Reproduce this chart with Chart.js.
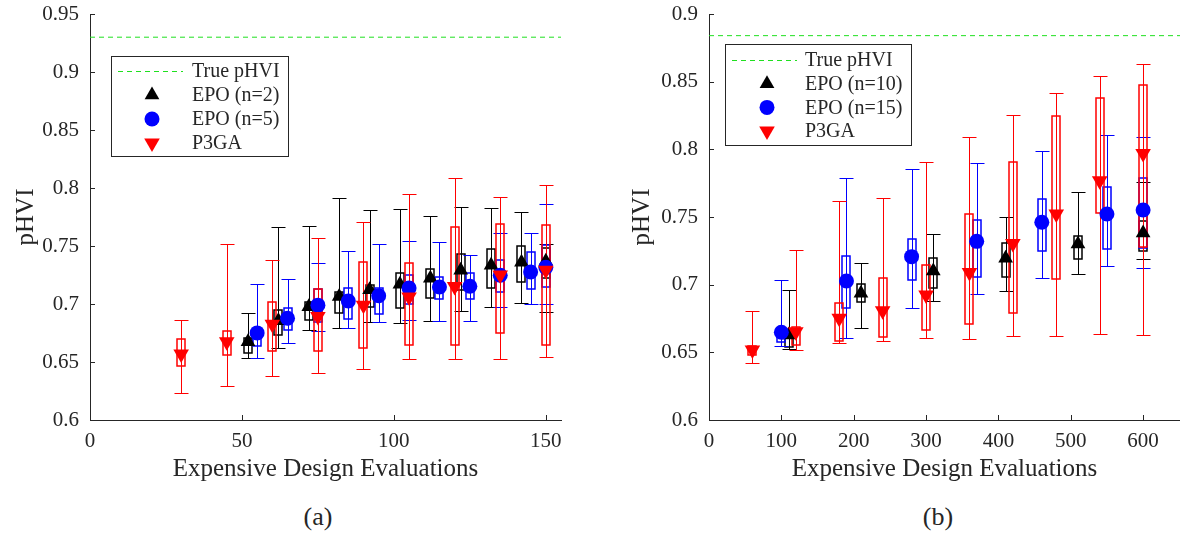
<!DOCTYPE html>
<html>
<head>
<meta charset="utf-8">
<script src="https://cdn.jsdelivr.net/npm/chart.js@4.4.0/dist/chart.umd.min.js"></script>
<style>
  body { margin: 0; background: #fff; width: 1180px; height: 537px; position: relative; overflow: hidden; font-family: 'Liberation Serif', 'Times New Roman', serif; }
  .panel { position: absolute; top: 0; width: 590px; height: 484px; }
  .cap { position: absolute; top: 502px; font-size: 26px; color: #262626; width: 60px; text-align: center; }
</style>
</head>
<body>
<div class="panel" style="left:0"><canvas id="chartA" width="590" height="484"></canvas></div>
<div class="panel" style="left:590px"><canvas id="chartB" width="590" height="484"></canvas></div>
<div class="cap" style="left:288px">(a)</div>
<div class="cap" style="left:908px">(b)</div>
<script>
// ---- panel (a) ----
const aXTicks = [0, 50, 100, 150]
const aYTicks = [0.6, 0.65, 0.7, 0.75, 0.8, 0.85, 0.9, 0.95]
const aTrue = 0.93

const aEpo2X = [52, 62, 72, 82, 92, 102, 112, 122, 132, 142, 150]
const aEpo2Mid = [0.6675, 0.6855, 0.6977, 0.7065, 0.7122, 0.717, 0.7222, 0.729, 0.7334, 0.736, 0.7368]
const aEpo2Q1 = [0.658, 0.673, 0.686, 0.692, 0.697, 0.6964, 0.705, 0.712, 0.7136, 0.7188, 0.722]
const aEpo2Q3 = [0.6706, 0.6947, 0.7018, 0.7104, 0.716, 0.7265, 0.730, 0.743, 0.747, 0.7497, 0.748]
const aEpo2Lo = [0.6533, 0.662, 0.6775, 0.6794, 0.6843, 0.6835, 0.685, 0.694, 0.697, 0.7007, 0.693]
const aEpo2Hi = [0.692, 0.7664, 0.7672, 0.791, 0.7807, 0.7816, 0.7756, 0.7833, 0.7824, 0.779, 0.7515]

const aEpo5X = [55, 65, 75, 85, 95, 105, 115, 125, 135, 145, 150]
const aEpo5Mid = [0.6751, 0.6877, 0.699, 0.7026, 0.7071, 0.7137, 0.7147, 0.7153, 0.7248, 0.7276, 0.7316]
const aEpo5Q1 = [0.6638, 0.6778, 0.6848, 0.687, 0.6912, 0.700, 0.704, 0.704, 0.7104, 0.7127, 0.7147]
const aEpo5Q3 = [0.6776, 0.6964, 0.713, 0.7137, 0.7138, 0.725, 0.7233, 0.7268, 0.7377, 0.7446, 0.7506]
const aEpo5Lo = [0.6537, 0.6662, 0.6765, 0.679, 0.6846, 0.686, 0.6852, 0.6855, 0.6975, 0.6998, 0.6998]
const aEpo5Hi = [0.7172, 0.7214, 0.7356, 0.7457, 0.7515, 0.754, 0.7534, 0.742, 0.761, 0.761, 0.786]

const aP3gaX = [30, 45, 60, 75, 90, 105, 120, 135, 150]
const aP3gaMid = [0.657, 0.6675, 0.6825, 0.6893, 0.699, 0.706, 0.715, 0.725, 0.729]
const aP3gaQ1 = [0.6465, 0.656, 0.6594, 0.6594, 0.662, 0.6647, 0.6644, 0.675, 0.665]
const aP3gaQ3 = [0.670, 0.6766, 0.7018, 0.7127, 0.7362, 0.735, 0.766, 0.7687, 0.768]
const aP3gaLo = [0.6236, 0.629, 0.638, 0.6407, 0.6439, 0.653, 0.653, 0.653, 0.654]
const aP3gaHi = [0.686, 0.7515, 0.7377, 0.7566, 0.771, 0.795, 0.809, 0.792, 0.803]

// ---- panel (b) ----
const bXTicks = [0, 100, 200, 300, 400, 500, 600]
const bYTicks = [0.6, 0.65, 0.7, 0.75, 0.8, 0.85, 0.9]
const bTrue = 0.884

const bEpo10X = [110, 210, 310, 410, 510, 600]
const bEpo10Mid = [0.6628, 0.6936, 0.7101, 0.7195, 0.73, 0.7382]
const bEpo10Q1 = [0.6542, 0.6874, 0.6973, 0.7059, 0.719, 0.7251]
const bEpo10Q3 = [0.6665, 0.7002, 0.72, 0.7308, 0.7362, 0.7473]
const bEpo10Lo = [0.6525, 0.6682, 0.6879, 0.6953, 0.7079, 0.719]
const bEpo10Hi = [0.6961, 0.7158, 0.7374, 0.7498, 0.7687, 0.7761]

const bEpo15X = [100, 190, 280, 370, 460, 550, 600]
const bEpo15Mid = [0.6648, 0.7027, 0.7207, 0.732, 0.7461, 0.7522, 0.7552]
const bEpo15Q1 = [0.6579, 0.683, 0.7034, 0.7059, 0.7249, 0.7264, 0.727]
const bEpo15Q3 = [0.6677, 0.7212, 0.7337, 0.7478, 0.7633, 0.7719, 0.7786]
const bEpo15Lo = [0.6547, 0.6603, 0.683, 0.6929, 0.7047, 0.714, 0.7126]
const bEpo15Hi = [0.7034, 0.7788, 0.7852, 0.7899, 0.7988, 0.8108, 0.8094]

const bP3gaX = [60, 120, 180, 240, 300, 360, 420, 480, 540, 600]
const bP3gaMid = [0.6517, 0.6653, 0.6751, 0.6808, 0.6924, 0.7089, 0.7305, 0.7522, 0.7768, 0.797]
const bP3gaQ1 = [0.648, 0.6554, 0.6586, 0.6611, 0.6665, 0.671, 0.6793, 0.704, 0.7527, 0.728]
const bP3gaQ3 = [0.655, 0.669, 0.6862, 0.7047, 0.7145, 0.7522, 0.7904, 0.8249, 0.8377, 0.8478]
const bP3gaLo = [0.6424, 0.6517, 0.6571, 0.6584, 0.6603, 0.6596, 0.662, 0.6623, 0.6633, 0.6628]
const bP3gaHi = [0.6805, 0.7256, 0.7616, 0.7638, 0.7904, 0.8094, 0.8254, 0.8416, 0.854, 0.8631]

const colors = {
  truth: '#1fe01f',
  epoA: '#000000',
  epoB: '#0000ff',
  p3ga: '#ff0000',
  axis: '#262626'
}

Chart.defaults.font.family = "'Liberation Serif', 'Times New Roman', serif"
Chart.defaults.color = colors.axis

function points (xs, ys) {
  return xs.map((x, i) => ({ x: x, y: ys[i] }))
}

function boxes (lo, q1, q3, hi) {
  return lo.map((v, i) => [v, q1[i], q3[i], hi[i]])
}

const crisp = v => Math.round(v) + 0.5

// box + whisker drawn through the chart scales
const boxPlugin = {
  id: 'boxWhisker',
  beforeDatasetsDraw (chart) {
    const { ctx, scales: { x, y } } = chart
    chart.data.datasets.forEach(ds => {
      if (!ds.box) return
      ctx.save()
      ctx.strokeStyle = ds.backgroundColor
      ds.data.forEach((p, i) => {
        const [lo, q1, q3, hi] = ds.box[i]
        const px = crisp(x.getPixelForValue(p.x))
        const yLo = crisp(y.getPixelForValue(lo))
        const yHi = crisp(y.getPixelForValue(hi))
        const yQ1 = Math.round(y.getPixelForValue(q1))
        const yQ3 = Math.round(y.getPixelForValue(q3))
        ctx.lineWidth = 1
        ctx.beginPath()
        ctx.moveTo(px, yLo); ctx.lineTo(px, yHi)
        ctx.moveTo(px - 7, yLo); ctx.lineTo(px + 7, yLo)
        ctx.moveTo(px - 7, yHi); ctx.lineTo(px + 7, yHi)
        ctx.stroke()
        ctx.lineWidth = 1.5
        ctx.strokeRect(px - 4.5, yQ3, 8, yQ1 - yQ3)
      })
      ctx.restore()
    })
  },
  afterDraw (chart) {
    // inward tick marks like the original figure
    const { ctx, chartArea, scales: { x, y } } = chart
    ctx.save()
    ctx.strokeStyle = colors.axis
    ctx.lineWidth = 1
    ctx.beginPath()
    x.ticks.forEach(t => {
      const px = crisp(x.getPixelForValue(t.value))
      ctx.moveTo(px, chartArea.bottom); ctx.lineTo(px, chartArea.bottom - 5)
    })
    y.ticks.forEach(t => {
      const py = crisp(y.getPixelForValue(t.value))
      ctx.moveTo(chartArea.left, py); ctx.lineTo(chartArea.left + 5, py)
    })
    ctx.stroke()

    // legend box
    const lg = chart.options.plugins.boxLegend
    ctx.fillStyle = '#fff'
    ctx.fillRect(lg.x, lg.y, lg.w, lg.h)
    ctx.strokeStyle = colors.axis
    ctx.strokeRect(lg.x + 0.5, lg.y + 0.5, lg.w, lg.h)
    ctx.font = "20px 'Liberation Serif', 'Times New Roman', serif"
    ctx.textBaseline = 'middle'
    ctx.textAlign = 'left'
    chart.data.datasets.forEach((ds, i) => {
      const ry = lg.y + lg.first + i * lg.step
      if (ds.type === 'line') {
        ctx.strokeStyle = ds.borderColor
        ctx.setLineDash(ds.borderDash)
        ctx.beginPath()
        ctx.moveTo(lg.x + lg.dash0, crisp(ry)); ctx.lineTo(lg.x + lg.dash1, crisp(ry))
        ctx.stroke()
        ctx.setLineDash([])
      } else {
        ctx.fillStyle = ds.backgroundColor
        ctx.strokeStyle = ds.backgroundColor
        Chart.helpers.drawPoint(ctx, {
          pointStyle: ds.pointStyle,
          radius: ds.pointRadius,
          rotation: ds.rotation || 0,
          borderWidth: 0
        }, lg.x + lg.mark, ry)
      }
      ctx.fillStyle = colors.axis
      ctx.fillText(ds.label, lg.x + lg.text, ry + 1)
    })
    ctx.restore()
  }
}

function makeChart (id, cfg) {
  return new Chart(document.getElementById(id), {
    type: 'scatter',
    data: {
      datasets: [
        {
          type: 'line',
          label: 'True pHVI',
          data: [{ x: 0, y: cfg.truth }, { x: cfg.xMax, y: cfg.truth }],
          borderColor: colors.truth,
          borderWidth: 1,
          borderDash: [5, 4],
          pointRadius: 0,
          order: 4
        },
        {
          label: cfg.names[0],
          data: points(cfg.s1.x, cfg.s1.mid),
          box: cfg.s1.box,
          backgroundColor: colors.epoA,
          borderColor: colors.epoA,
          pointStyle: 'triangle',
          pointRadius: 8.5,
          borderWidth: 0,
          order: 3
        },
        {
          label: cfg.names[1],
          data: points(cfg.s2.x, cfg.s2.mid),
          box: cfg.s2.box,
          backgroundColor: colors.epoB,
          borderColor: colors.epoB,
          pointStyle: 'circle',
          pointRadius: 7.5,
          borderWidth: 0,
          order: 2
        },
        {
          label: 'P3GA',
          data: points(cfg.s3.x, cfg.s3.mid),
          box: cfg.s3.box,
          backgroundColor: colors.p3ga,
          borderColor: colors.p3ga,
          pointStyle: 'triangle',
          rotation: 180,
          pointRadius: 9,
          borderWidth: 0,
          order: 1
        }
      ]
    },
    options: {
      responsive: false,
      animation: false,
      events: [],
      layout: { padding: cfg.padding, autoPadding: false },
      plugins: {
        legend: { display: false },
        tooltip: { enabled: false },
        boxLegend: cfg.legend
      },
      scales: {
        x: {
          type: 'linear',
          min: 0,
          max: cfg.xMax,
          afterBuildTicks: s => { s.ticks = cfg.xTicks.map(v => ({ value: v })) },
          afterFit: s => {
            s.height = 64
            s.paddingLeft = 0
            s.paddingRight = 0
          },
          grid: { display: false, drawTicks: false },
          border: { display: true, color: colors.axis, width: 1 },
          ticks: { font: { size: 21 }, padding: 9, maxRotation: 0 },
          title: {
            display: true,
            text: 'Expensive Design Evaluations',
            font: { size: 25 },
            padding: { top: 0, bottom: 0 }
          }
        },
        y: {
          min: 0.6,
          max: cfg.yMax,
          afterBuildTicks: s => { s.ticks = cfg.yTicks.map(v => ({ value: v })) },
          afterFit: s => {
            s.width = cfg.yWidth
            s.paddingTop = 0
            s.paddingBottom = 0
          },
          grid: { display: false, drawTicks: false },
          border: { display: true, color: colors.axis, width: 1 },
          ticks: {
            font: { size: 21 },
            padding: 11,
            callback: v => String(Number(v.toFixed(2)))
          },
          title: {
            display: true,
            text: 'pHVI',
            font: { size: 25 },
            padding: { top: cfg.yTitlePad, bottom: 0 }
          }
        }
      }
    },
    plugins: [boxPlugin]
  })
}

makeChart('chartA', {
  truth: aTrue,
  xMax: 155,
  yMax: 0.95,
  xTicks: aXTicks,
  yTicks: aYTicks,
  yWidth: 90,
  yTitlePad: 11,
  padding: { top: 14, right: 29, left: 0, bottom: 0 },
  names: ['EPO (n=2)', 'EPO (n=5)'],
  s1: { x: aEpo2X, mid: aEpo2Mid, box: boxes(aEpo2Lo, aEpo2Q1, aEpo2Q3, aEpo2Hi) },
  s2: { x: aEpo5X, mid: aEpo5Mid, box: boxes(aEpo5Lo, aEpo5Q1, aEpo5Q3, aEpo5Hi) },
  s3: { x: aP3gaX, mid: aP3gaMid, box: boxes(aP3gaLo, aP3gaQ1, aP3gaQ3, aP3gaHi) },
  legend: { x: 111, y: 56, w: 177, h: 100, first: 15, step: 24, dash0: 7, dash1: 72, mark: 41, text: 81 }
})

makeChart('chartB', {
  truth: bTrue,
  xMax: 651,
  yMax: 0.9,
  xTicks: bXTicks,
  yTicks: bYTicks,
  yWidth: 119,
  yTitlePad: 37,
  padding: { top: 14, right: 0, left: 0, bottom: 0 },
  names: ['EPO (n=10)', 'EPO (n=15)'],
  s1: { x: bEpo10X, mid: bEpo10Mid, box: boxes(bEpo10Lo, bEpo10Q1, bEpo10Q3, bEpo10Hi) },
  s2: { x: bEpo15X, mid: bEpo15Mid, box: boxes(bEpo15Lo, bEpo15Q1, bEpo15Q3, bEpo15Hi) },
  s3: { x: bP3gaX, mid: bP3gaMid, box: boxes(bP3gaLo, bP3gaQ1, bP3gaQ3, bP3gaHi) },
  legend: { x: 135, y: 44, w: 186, h: 101, first: 16, step: 23.7, dash0: 7, dash1: 72, mark: 42, text: 80 }
})
</script>
</body>
</html>
